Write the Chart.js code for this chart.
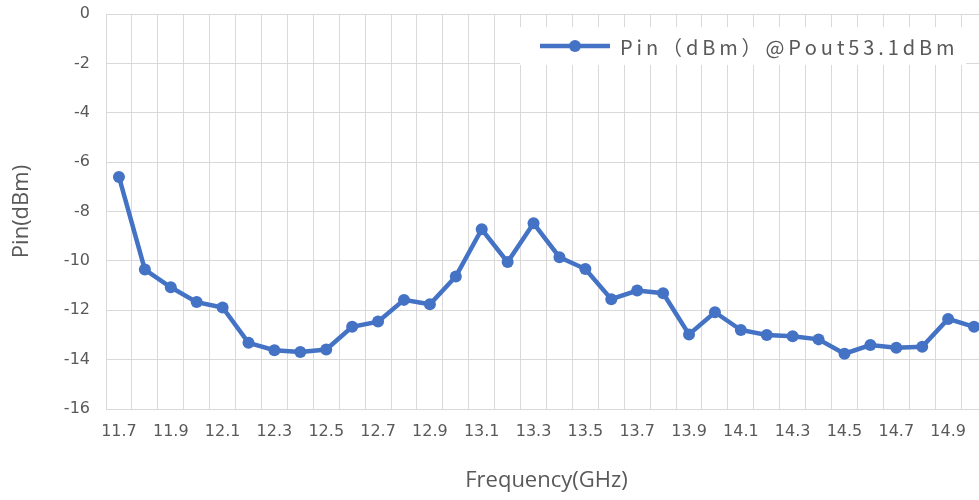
<!DOCTYPE html>
<html>
<head>
<meta charset="utf-8">
<script src="https://cdn.jsdelivr.net/npm/chart.js@4"></script>
<style>
  html, body { margin: 0; padding: 0; background: #fff; overflow: hidden; }
  #wrap { width: 1000px; height: 500px; }
</style>
</head>
<body>
<div id="wrap"><canvas id="canvas"></canvas></div>
<script>
var freqLabels = ['11.7', '11.8', '11.9', '12.0', '12.1', '12.2', '12.3', '12.4', '12.5', '12.6',
                  '12.7', '12.8', '12.9', '13.0', '13.1', '13.2', '13.3', '13.4', '13.5', '13.6',
                  '13.7', '13.8', '13.9', '14.0', '14.1', '14.2', '14.3', '14.4', '14.5', '14.6',
                  '14.7', '14.8', '14.9', '15.0'];
var pinValues = [-6.6, -10.35, -11.07, -11.67, -11.89, -13.32, -13.62, -13.69, -13.59, -12.67,
                 -12.46, -11.58, -11.76, -10.63, -8.72, -10.05, -8.48, -9.85, -10.33, -11.55,
                 -11.2, -11.31, -12.98, -12.08, -12.8, -13.0, -13.05, -13.18, -13.76, -13.41,
                 -13.52, -13.48, -12.35, -12.67];
var yMin = -16, yMax = 0, yStep = 2;
var seriesLabel = 'Pin（dBm）@Pout53.1dBm';

var blue = '#4472c4';
var gridColor = '#d9d9d9';
var textColor = '#595959';

// excel-like legend box sitting inside the plot, top right
var boxLegend = {
    id: 'boxLegend',
    beforeDatasetsDraw: function(chart) {
        var ctx = chart.ctx;
        var ds = chart.data.datasets[0];
        ctx.save();
        ctx.fillStyle = '#fff';
        ctx.fillRect(520, 27, 446, 38);
        ctx.strokeStyle = ds.borderColor;
        ctx.lineWidth = 4.5;
        ctx.beginPath();
        ctx.moveTo(540, 46);
        ctx.lineTo(610, 46);
        ctx.stroke();
        ctx.fillStyle = ds.borderColor;
        ctx.beginPath();
        ctx.arc(575, 46, 6, 0, Math.PI * 2);
        ctx.fill();
        ctx.font = '20px "Noto Sans CJK SC"';
        ctx.fillStyle = textColor;
        ctx.textBaseline = 'middle';
        var w = ctx.measureText(ds.label).width;
        var gap = (334 - w) / (ds.label.length - 1);
        var x = 620;
        for (var i = 0; i < ds.label.length; i++) {
            var ch = ds.label[i];
            ctx.fillText(ch, x, 47);
            x += ctx.measureText(ch).width + gap;
        }
        ctx.restore();
    }
};

var config = {
    type: 'line',
    data: {
        labels: freqLabels,
        datasets: [{
            label: seriesLabel,
            data: pinValues,
            borderColor: blue,
            backgroundColor: blue,
            borderWidth: 4.5,
            pointRadius: 6,
            pointBackgroundColor: blue,
            pointBorderColor: blue,
            pointBorderWidth: 0,
            tension: 0
        }]
    },
    options: {
        responsive: true,
        maintainAspectRatio: false,
        animation: false,
        layout: { padding: { top: 14, right: 13, left: 0, bottom: 0 } },
        plugins: {
            legend: { display: false },
            tooltip: { enabled: false }
        },
        scales: {
            x: {
                offset: true,
                grid: { color: gridColor, offset: true, drawTicks: false },
                border: { color: gridColor },
                ticks: {
                    autoSkip: false,
                    maxRotation: 0,
                    padding: 13,
                    color: textColor,
                    font: { family: 'DejaVu Sans', size: 16 },
                    callback: function(v, i) { return i % 2 === 0 ? freqLabels[i] : ''; }
                },
                title: {
                    display: true,
                    text: 'Frequency(GHz)',
                    color: textColor,
                    font: { family: 'Open Sans', size: 22 },
                    padding: { top: 0, bottom: 6 }
                },
                afterFit: function(scale) { scale.height = 91; }
            },
            y: {
                min: yMin,
                max: yMax,
                grid: { color: gridColor, drawTicks: false },
                border: { color: gridColor },
                ticks: {
                    stepSize: yStep,
                    padding: 16,
                    color: textColor,
                    font: { family: 'DejaVu Sans', size: 16 }
                },
                title: {
                    display: true,
                    text: 'Pin(dBm)',
                    color: textColor,
                    font: { family: 'Open Sans', size: 22 },
                    padding: { top: 9, bottom: 0 }
                },
                afterFit: function(scale) {
                    scale.width = 106;
                    scale.paddingTop = 0;
                    scale.paddingBottom = 0;
                }
            }
        }
    },
    plugins: [boxLegend]
};

window.onload = function() {
    window.myLine = new Chart(document.getElementById('canvas'), config);
};
</script>
</body>
</html>
